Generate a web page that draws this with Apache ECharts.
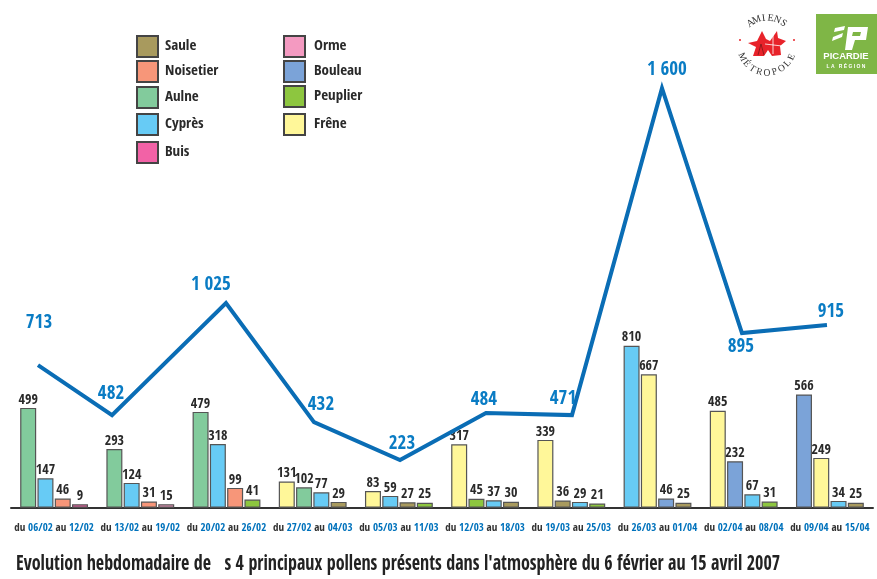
<!DOCTYPE html>
<html><head><meta charset="utf-8">
<style>html,body{margin:0;padding:0;background:#fff}#c{width:877px;height:579px}</style>
<script src="https://cdn.jsdelivr.net/npm/echarts@6/dist/echarts.min.js"></script>
</head><body><div id="c"></div>
<script>
const titleText = "Evolution hebdomadaire de   s 4 principaux pollens présents dans l'atmosphère du 6 février au 15 avril 2007";
const categories = ['du 06/02 au 12/02','du 13/02 au 19/02','du 20/02 au 26/02','du 27/02 au 04/03','du 05/03 au 11/03','du 12/03 au 18/03','du 19/03 au 25/03','du 26/03 au 01/04','du 02/04 au 08/04','du 09/04 au 15/04'];
const speciesNames = ['Saule','Noisetier','Aulne','Cyprès','Buis','Orme','Bouleau','Peuplier','Frêne'];
const speciesColors = ['#A89A5E','#F79679','#82CB9C','#67CBF5','#F262A6','#F49AC1','#7BA3D8','#8DC63F','#FFF799'];
const bar1Species = ['Aulne','Aulne','Aulne','Frêne','Frêne','Frêne','Frêne','Cyprès','Frêne','Bouleau'];
const bar1Values = [499,293,479,131,83,317,339,810,485,566];
const bar2Species = ['Cyprès','Cyprès','Cyprès','Aulne','Cyprès','Peuplier','Saule','Frêne','Bouleau','Frêne'];
const bar2Values = [147,124,318,102,59,45,36,667,232,249];
const bar3Species = ['Noisetier','Noisetier','Noisetier','Cyprès','Saule','Cyprès','Cyprès','Bouleau','Cyprès','Cyprès'];
const bar3Values = [46,31,99,77,27,37,29,46,67,34];
const bar4Species = ['Buis','Orme','Peuplier','Saule','Peuplier','Saule','Peuplier','Saule','Peuplier','Saule'];
const bar4Values = [9,15,41,29,25,30,21,25,31,25];
// Weekly totals as printed on the chart
const totalLabels = [713,482,1025,432,223,484,471,1600,895,915];
// Where the reference actually draws the total line: week position and height on the bar scale
const lineWeekPos = [0.313,1.172,2.494,3.515,4.513,5.51,6.508,7.552,8.48,9.466];
const lineHeights = [713,463,1023,428,238,473,463,2098,873,913];
const labelOffsets = [[1,-42],[-1,-21],[-15,-18],[7,-17],[2,-16],[-2,-13],[-9,-16],[5,-18],[-1,14],[4,-13]];
const legendSpots = [[136,35],[136,60],[136,86],[136,113],[136,141],[283,35],[283,60],[283,85],[283,113]];

const NARROW = '"Open Sans Condensed","Roboto Condensed",sans-serif';
const colorOf = n => speciesColors[speciesNames.indexOf(n)];
const fmtTotal = v => v >= 1000 ? Math.floor(v/1000) + ' ' + String(v%1000).padStart(3,'0') : String(v);

function barSeries(name, vals, spec){
  return {
    name, type:'bar', xAxisIndex:0, yAxisIndex:0, barWidth:16, barGap:'8%', barMinHeight:3.5,
    data: vals.map((v,i)=>({value:v, itemStyle:{color:colorOf(spec[i])}})),
    itemStyle:{borderColor:'#555',borderWidth:1.2},
    label:{show:true,position:'top',distance:1,color:'#2a2a2a',fontFamily:NARROW,fontWeight:'bold',fontSize:14},
    z:2
  };
}
const legendDummies = speciesNames.map((n,i)=>({
  name:n,type:'scatter',xAxisIndex:0,yAxisIndex:0,data:[],
  itemStyle:{color:speciesColors[i],borderColor:'#444',borderWidth:1.4,opacity:1}
}));
const legends = speciesNames.map((n,i)=>({
  data:[{name:n,icon:'rect'}],left:legendSpots[i][0],top:legendSpots[i][1],padding:0,
  itemWidth:21,itemHeight:21,itemGap:0,selectedMode:false,
  textStyle:{fontFamily:NARROW,fontWeight:'bold',fontSize:15,color:'#2a2a2a',padding:[-7,0,0,i<5?2:4]}
}));

// Logos and title
const logoGraphics = [
  {type:'text',x:16,y:565,scaleX:0.858,style:{text:titleText,fill:'#222',font:'bold 21px "Open Sans Condensed",sans-serif',align:'left',verticalAlign:'middle'}},
  {type:'rect',shape:{x:816,y:14,width:61,height:60},style:{fill:'#7FB646'}},
  {type:'polygon',shape:{points:[[848,27],[868,27],[866,40],[855,40],[852,50],[845,50]]},style:{fill:'#fff'}},
  {type:'polygon',shape:{points:[[853,32],[861,32],[860,36],[852,36]]},style:{fill:'#7FB646'}},
  {type:'polygon',shape:{points:[[835,28],[845,26],[844,30],[834,32]]},style:{fill:'#fff'}},
  {type:'polygon',shape:{points:[[833,37],[843,33],[842,37],[832,41]]},style:{fill:'#fff'}},
  {type:'text',style:{x:846,y:56,text:'PICARDIE',fill:'#fff',font:'bold 9.5px "Liberation Sans",sans-serif',align:'center',verticalAlign:'middle'}},
  {type:'text',style:{x:846,y:67,text:'L A   R É G I O N',fill:'#fff',font:'bold 5px "Liberation Sans",sans-serif',align:'center',verticalAlign:'middle'}},
  {type:'circle',shape:{cx:740,cy:40,r:1},style:{fill:'#E8232A'}},
  {type:'circle',shape:{cx:794,cy:40,r:1},style:{fill:'#E8232A'}},
  {type:'polygon',shape:{points:[[748,43],[757,41],[762,31],[766,39],[770,41],[777,31],[778,38],[786,41],[780,46],[781,55],[772,56],[768,50],[764,56],[753,56],[756,47]]},style:{fill:'#E8232A'}},
  {type:'line',shape:{x1:773,y1:34,x2:773,y2:54},style:{stroke:'#fff',lineWidth:0.8}},
  {type:'line',shape:{x1:765,y1:44,x2:782,y2:46},style:{stroke:'#fff',lineWidth:0.8}},
  {type:'line',shape:{x1:761,y1:44,x2:758,y2:55},style:{stroke:'#7a1a1a',lineWidth:0.8}},
  {type:'line',shape:{x1:761,y1:44,x2:764,y2:55},style:{stroke:'#7a1a1a',lineWidth:0.8}}
];
function arcText(word, cx, cy, r, startDeg, stepDeg, bottom, size){
  [...word].forEach((ch,i)=>{
    const a = (startDeg + i*stepDeg)*Math.PI/180;
    logoGraphics.push({type:'text',x:cx+r*Math.sin(a),y:bottom?cy+r*Math.cos(a):cy-r*Math.cos(a),
      rotation:bottom?a:-a,
      style:{text:ch,fill:'#333',font:size+'px "Liberation Serif",serif',align:'center',verticalAlign:'middle'}});
  });
}
arcText('AMIENS',767,46,28,-36,14.4,false,10);
arcText('MÉTROPOLE',767,46,27,-66,16.5,true,9.5);

const option = {
  animation:false,
  backgroundColor:'#fff',
  legend:legends,
  grid:{left:11,right:4,top:7.7,bottom:71.3,containLabel:false},
  xAxis:[
    {type:'category',data:categories,gridIndex:0,
      axisLine:{lineStyle:{color:'#333',width:2}},
      axisTick:{inside:true,length:17,lineStyle:{color:'#333',width:1.5}},
      axisLabel:{interval:0,margin:15,fontFamily:NARROW,fontWeight:'bold',fontSize:11,color:'#333',
        formatter:v=>v.replace(/\d\d\/\d\d/g,m=>'{d|'+m+'}'),
        rich:{d:{color:'#0072BC',fontFamily:NARROW,fontWeight:'bold',fontSize:11}}}},
    {type:'value',min:0,max:10,show:false,gridIndex:0}
  ],
  yAxis:[{type:'value',min:0,max:2500,show:false}],
  series:[
    barSeries('Barre 1',bar1Values,bar1Species),
    barSeries('Barre 2',bar2Values,bar2Species),
    barSeries('Barre 3',bar3Values,bar3Species),
    barSeries('Barre 4',bar4Values,bar4Species),
    ...legendDummies,
    {name:'Total',type:'line',xAxisIndex:1,yAxisIndex:0,symbol:'circle',symbolSize:0,z:3,
      lineStyle:{color:'#0A6DB5',width:4,cap:'butt',join:'miter'},
      data:lineWeekPos.map((x,i)=>({value:[x,lineHeights[i]],
        label:{show:true,position:'inside',offset:labelOffsets[i],align:'center',verticalAlign:'middle',
          formatter:fmtTotal(totalLabels[i]),color:'#0A7CC4',fontFamily:NARROW,fontWeight:'bold',fontSize:19}}))}
  ],
  graphic:logoGraphics
};
const chart = echarts.init(document.getElementById('c'),null,{renderer:'canvas'});
chart.setOption(option);
</script></body></html>
